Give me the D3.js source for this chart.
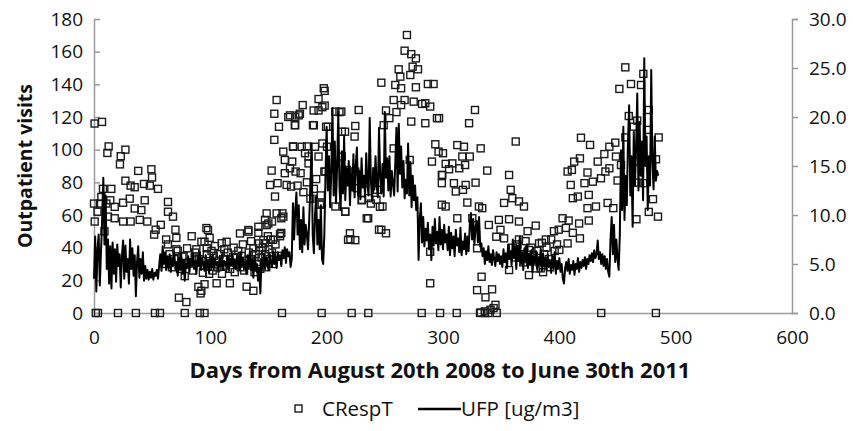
<!DOCTYPE html>
<html>
<head>
<meta charset="utf-8">
<script src="https://cdn.jsdelivr.net/npm/d3@7"></script>
<style>
  body { margin: 0; background: #fff; }
  svg { display: block; }
  text { font-family: "Open Sans", sans-serif; fill: #111; }
</style>
</head>
<body>
<svg id="chart"></svg>
<script>
// tick values
const xTicks = [0, 100, 200, 300, 400, 500, 600];
const leftTicks = [0, 20, 40, 60, 80, 100, 120, 140, 160, 180];
const rightTicks = [0, 5, 10, 15, 20, 25, 30];

// CRespT: [day, outpatient visits]
const crespPoints = [
  [0.5,116],[6.9,117],[12.6,102],[11.5,98],[27,100],[23,96],[22.3,91],[38,87],[49.3,88],[49.9,83],
  [27,81],[31.5,78],[35,77],[43,79],[48,78],[55,76],[7.7,76],[14.9,76],[6.3,71],[0,67],
  [10.6,67],[17.8,65],[25,67.5],[30.7,70],[35,64],[40.7,63],[43.6,69],[0.6,56],[12,59],[17.8,58],
  [25,56],[31.5,56],[39.3,57],[45.8,56],[57.4,54],[53,51],[51.7,48],[3,62],[9,50],[5,67],[14,69],
  [63.6,68],[63.6,62],[67.9,59],[70,51],[62,45],[63.6,42],[70.8,46],[70.8,39],[84,47],[96.6,52],
  [92.3,43.6],[88,39],[86.5,34],[81,30.5],[78,22.6],[73,9.4],[79.4,6.7],[92.3,13.6],[95,17.6],[93.6,24.6],
  [98,28.7],[89.7,16],[91.6,12],[76,34.5],[80,39.6],[98,50.8],[99.4,46],[95,43.6],[96.9,39.6],
  [62,30],[65,36],[67,28],[69,33],[72,38],[74,27],[77,35],[82,31],[85,26],[87,37],[90,33],[94,29],[97,36],[99,24],
  [100,30],[101,38],[102,26],[103,35],[104,41],[106,28],[108,36],[110,24],[111,33],[112,39],[113,29],
  [115,37],[117,27],[118,31],[120,40],[121,25],[122,34],[123,30],[124,38],[126,28],[127,35],[128,42],
  [129,26],[130,32],[133,37],[134,29],[135,44],[136,33],[138,25],[139,36],[140,30],[142,38],[143,27],
  [144,34],[145,40],[146,31],[147,36],[148,28],[150,39],[151,33],[152,45],[153,37],[154,30],[156,42],
  [158,35],[160,47],
  [109.8,42.7],[114,43.6],[125.5,48.7],[132.7,50.8],[141.3,52.8],[148.4,53.8],[153,56],[157,61],[161,58],
  [154,44.8],[137,39.6],[107,32],[119.7,34.3],[105.4,18.2],[116.8,18.2],[131.2,16.1],[137,13.6],
  [132.7,49.8],[148.4,61],[147,57],[149.9,54.8],[141.3,49.1],[145.6,44.6],[149.4,47],[159.9,48.3],
  [141.9,42.6],[147,42.6],[162.8,59],[155.6,71.3],[152.7,87.2],[151.3,78.4],[157.8,79.5],[165.6,78.4],
  [169.4,77.4],[157,130.4],[155,122],[159,114],[155,106],[167,120],[173,120],[162.7,98.8],[171.3,101.8],
  [164,93.7],[170.4,92.7],[168.5,88.6],[164,85.6],[172.6,115],[161,49],[162,61],
  [178.5,101.8],[181.4,97.8],[190,101.8],[193,95.8],[196.3,103.8],[173.3,86.6],[177.6,85.6],[184.4,95.8],
  [184.4,91.6],[198,86.6],[177,122],[179.4,127.3],[188.2,115],[188.8,124],[193,124],[196.3,126],
  [193,131],[197.5,137.6],[199.5,114],[194.3,66.3],[175,78],[180,74],[183,80],[186,70],[189,76],
  [191,82],[195,72],[168.5,121],[176,121],[173,115],[189,115],[171,102],[183,102],
  [269,170.2],[267,160.6],[272.7,158.5],[276.7,155.9],[273.9,150.8],[278.5,149.2],[261.9,149.2],
  [271.9,145.7],[263.3,144.7],[247,141],[259,139.6],[264,137.6],[276.7,138.2],[287,140.2],[291.9,140.2],
  [207.5,123.3],[212.6,123.3],[227.5,124.3],[251,124],[257.6,130.4],[267,130.4],[264,127.3],[274.8,129.4],
  [282,128],[284.8,128.4],[289,126.4],[253.9,119.3],[272.7,117.2],[284.8,116.2],[294.8,119.3],[249,115],
  [224.6,114.5],[198.3,136],[198.3,127],[213,111],[224,108],[200.3,101.8],[257.6,100.8],[293.4,103.3],
  [296.2,98.8],[290.5,92.7],[271.4,93.7],[199,86.6],[299,84.5],[299,79.5],[299,66.3],[213,95.8],
  [217.4,87.6],[224.6,86.6],[233,79.5],[226,76.4],[243.3,75.4],[236.3,70.3],[242.8,69.3],[248,65.2],
  [230.4,69.3],[207.5,65.2],[216,62.1],[235.7,58],[247,50.9],[251,48.8],[220.4,45.1],[224.6,44.6],
  [289,37.5],[289,18.2],[211,123],[201,114],[215.8,111],[195.7,67],[216,62],[234.4,58],[220,48.8],
  [218.4,44.8],[245,51],[245.8,65],[230,69],[238,67],[260,123],
  [327.5,124.3],[322.4,116.2],[362.5,105],[296.6,119.3],[312.3,102.8],[318,101.8],[332.4,100.8],
  [323,95.8],[316.6,95.8],[300,97.8],[302.3,91.3],[308,91.6],[319,90.6],[314,88.6],[305.2,88],
  [338,87.2],[356.8,84.5],[299.4,84.5],[309.4,79.5],[319.5,78.4],[328,79.8],[311,74.4],[317.2,75.4],
  [358.2,75.4],[352.5,67.4],[359.6,70.3],[365.3,68.3],[369.6,65.2],[302.3,65.2],[320.9,67.6],
  [330.9,65.2],[333.7,64.2],[312.3,58],[339.4,53.9],[348,57],[356.8,57.4],[365.3,56],[349.4,50.9],
  [345.8,46.7],[352.5,45.7],[325.2,58],[372.7,50.1],[379.7,53.5],[395.4,50.1],[388.4,45],[382.6,42.6],
  [365.3,45],[373.9,38.6],[329.3,39.6],[356.8,26.3],[373.9,23.2],[379.7,27.3],[384,27.3],[333.2,22.2],
  [329.3,14],[342.2,14.5],[336.5,9.6],[345.1,5],[340.8,2],[336,1],[332.4,0.3],[343.5,3],
  [360,40],[362,34],[364,42],[367,36],[369,31],[371,44],[374,33],[376,40],[378,35],[381,38],
  [383,31],[385,43],[387,36],[389,40],[391,33],[393,45],[396,38],[398,42],[392,28],[386,25],
  [456.7,150.4],[451.6,137.2],[461.6,140.2],[472.2,146.4],[470.2,139.6],[459.7,120.6],[466.9,117.8],
  [476.9,124.3],[475.5,112.1],[464,114.1],[456.7,107.5],[485.4,107.5],[418.6,107.3],[426.4,102.9],
  [448.1,104.3],[443,101.8],[438.7,97.3],[433,92.7],[417.7,94.7],[412.8,92.7],[410.8,87.6],[407.1,86.6],
  [424.2,86],[439.6,86.6],[443,88.6],[448.7,95.8],[453,90.6],[466,92.7],[483.1,94.1],[435.8,82.5],
  [428.8,80.4],[421.6,79.5],[450.1,81.1],[467.3,79.8],[472.2,79.5],[409.8,78.4],[425.3,72.3],
  [411.6,70.3],[415.9,71.3],[431.5,65.2],[441.5,67.4],[446.4,64.2],[424.2,64.2],[480.5,69.7],
  [466.3,57.4],[476.9,61.9],[484.8,59],[402.8,58],[408,56.6],[417,54.8],[425.3,56.6],[399.5,51],
  [405.7,52.1],[411.6,49.1],[417.7,45.7],[407.1,42.6],[400,38.6],
  // zero days
  [1.5,0],[3.4,0],[20.6,0],[36,0],[52.4,0],[56.7,0],[78,0],[91,0],[95,0],[161.6,0],[195.7,0],
  [221.5,0],[235.8,0],[281.7,0],[297.5,0],[311.8,0],[331.8,0],[336.1,0],[339,0],[346.2,0],
  [436,0],[483,0]
];

// UFP [ug/m3], one value per day starting at day 0
const ufpValues = [
  3.5,7.8,2.2,6.5,8.0,2.8,6.2,9.5,13.8,7.0,
  12.0,4.5,7.5,3.0,6.8,2.5,7.2,4.0,6.5,3.2,
  7.0,4.8,6.0,2.6,5.8,7.4,3.5,6.9,4.2,5.5,
  3.0,7.5,4.5,6.6,3.8,5.9,1.7,5.2,6.8,3.6,
  5.5,4.0,6.2,3.3,4.8,3.5,4.4,3.4,4.2,3.6,
  4.5,3.4,4.1,3.8,4.4,3.5,4.8,6.0,4.3,6.8,
  5.0,6.2,4.4,5.8,4.6,6.0,4.2,5.5,4.8,6.1,
  4.5,5.2,3.8,5.6,4.4,6.0,4.0,5.4,3.3,5.0,
  4.6,5.8,4.2,5.5,4.9,6.1,4.5,5.3,4.0,5.7,
  4.8,6.2,4.4,5.6,5.0,4.3,5.9,4.6,5.4,4.1,
  5.8,4.7,6.0,4.5,5.5,4.9,5.2,4.2,5.7,4.8,
  6.0,4.4,5.3,5.0,4.6,5.9,4.3,5.5,4.9,6.1,
  4.7,5.4,4.5,5.8,5.1,4.4,6.2,4.8,5.6,4.5,
  5.3,4.0,5.9,4.6,6.3,4.4,5.5,3.6,5.8,4.3,
  5.0,3.3,4.6,2.0,5.4,4.7,6.0,4.5,5.6,5.0,
  4.4,6.0,5.2,4.7,6.3,5.0,5.8,4.6,6.2,5.4,
  5.9,4.8,6.4,5.6,6.7,5.1,6.5,5.8,6.2,4.7,
  5.5,11.2,7.5,10.5,12.3,8.0,11.0,6.5,9.5,6.2,
  10.8,7.0,9.0,8.0,6.5,9.5,13.0,17.3,8.0,6.1,
  10.0,12.0,7.0,9.5,6.5,11.0,5.5,5.0,8.0,14.0,
  19.0,12.5,16.0,10.8,14.5,20.9,12.0,17.5,11.2,15.0,
  20.5,13.0,10.5,16.5,12.2,18.0,11.5,14.8,13.0,15.5,
  11.0,14.2,12.5,16.2,11.8,15.0,16.9,12.0,14.5,11.6,
  15.8,12.8,14.0,11.9,16.3,13.2,12.0,19.9,13.5,11.5,
  14.8,12.6,16.0,13.0,11.8,18.9,14.0,12.2,15.2,11.9,
  20.5,13.8,15.8,12.5,16.0,11.9,14.5,13.2,12.0,15.4,
  18.9,12.4,19.3,14.2,17.0,12.8,15.5,11.7,13.6,12.2,
  17.3,12.0,15.4,10.8,14.0,11.5,13.0,10.5,11.8,5.4,
  9.5,11.2,7.2,9.8,6.8,8.6,7.4,9.2,6.5,8.0,
  5.4,8.8,6.9,9.6,7.1,8.3,6.4,9.8,7.0,8.5,
  6.5,9.0,7.2,8.0,6.4,8.8,5.9,8.2,6.6,7.8,
  5.8,8.5,6.9,7.6,6.2,8.7,5.9,7.3,6.5,8.1,
  6.0,7.8,6.3,8.9,10.2,7.5,9.6,7.0,8.8,9.4,
  7.2,9.8,6.8,7.1,5.8,6.6,5.0,6.3,5.4,6.8,
  5.2,6.0,4.9,6.4,5.5,4.8,6.2,5.3,6.0,5.0,
  5.8,4.7,6.5,5.2,6.1,4.6,7.0,5.5,6.3,4.9,
  7.5,5.6,6.8,4.5,6.9,5.3,7.8,5.0,6.2,4.4,
  6.6,5.2,7.0,4.6,6.0,4.9,6.4,4.2,5.8,5.1,
  6.3,4.5,5.7,5.0,6.5,4.3,6.1,4.8,5.5,4.4,
  6.0,4.7,5.4,4.1,5.8,4.6,6.2,4.0,5.3,4.5,
  5.6,4.2,5.0,3.5,3.0,4.6,5.2,4.3,5.5,4.0,
  4.9,4.4,5.3,3.9,5.0,4.5,5.6,4.2,5.2,4.6,
  5.4,4.8,5.7,4.5,5.5,5.0,5.9,5.3,6.1,5.2,
  6.4,5.6,6.0,7.4,5.5,6.2,5.0,6.0,4.8,5.8,
  4.5,5.5,4.2,3.7,7.5,9.8,6.0,9.0,5.2,7.5,
  5.5,4.4,8.0,16.6,10.5,19.0,9.5,14.0,11.0,17.5,
  21.2,12.0,16.0,8.8,18.5,13.0,17.0,22.4,12.5,19.5,
  14.0,17.5,11.5,26.0,15.0,18.0,10.5,16.0,13.0,24.8,
  15.5,12.6,18.0,13.5,14.5,14.0
];

const width = 853, height = 431;
const margin = { top: 19, right: 61, bottom: 118, left: 94 };
const plotW = width - margin.left - margin.right;
const plotH = height - margin.top - margin.bottom;

const svg = d3.select('#chart').attr('width', width).attr('height', height);
const g = svg.append('g').attr('transform', `translate(${margin.left},${margin.top})`);

const x = d3.scaleLinear().domain([0, 600]).range([0, plotW]);
const yLeft = d3.scaleLinear().domain([0, 180]).range([plotH, 0]);
const yRight = d3.scaleLinear().domain([0, 30]).range([plotH, 0]);

const axisColor = '#9a9a9a';

// left axis (ticks point into the plot)
const leftAxis = g.append('g')
  .call(d3.axisLeft(yLeft).tickValues(leftTicks).tickSize(0).tickPadding(11));
leftAxis.select('.domain').attr('stroke', axisColor).attr('stroke-width', 1.5);
leftAxis.selectAll('.tick line').remove();
leftAxis.selectAll('.tick').append('line')
  .attr('x1', 0).attr('x2', 6).attr('stroke', axisColor).attr('stroke-width', 1.5);

// right axis
const rightAxis = g.append('g')
  .attr('transform', `translate(${plotW},0)`)
  .call(d3.axisRight(yRight).tickValues(rightTicks).tickSize(6).tickPadding(11)
    .tickFormat(d3.format('.1f')));
rightAxis.select('.domain').attr('stroke', axisColor).attr('stroke-width', 1.5);
rightAxis.selectAll('.tick line').attr('stroke', axisColor).attr('stroke-width', 1.5);

// bottom axis
const bottomAxis = g.append('g')
  .attr('transform', `translate(0,${plotH})`)
  .call(d3.axisBottom(x).tickValues(xTicks).tickSize(0).tickPadding(18));
bottomAxis.select('.domain').attr('stroke', axisColor).attr('stroke-width', 1.5);

svg.selectAll('.tick text')
  .style('font-family', '"Open Sans", sans-serif')
  .style('font-size', '19px')
  .attr('fill', '#111');

// CRespT squares
const sq = 7;
g.selectAll('.cresp')
  .data(crespPoints)
  .enter()
  .append('rect')
  .attr('class', 'cresp')
  .attr('x', (d) => x(d[0]) - sq / 2)
  .attr('y', (d) => yLeft(d[1]) - sq / 2)
  .attr('width', sq)
  .attr('height', sq)
  .attr('fill', 'none')
  .attr('stroke', '#1a1a1a')
  .attr('stroke-width', 1.4);

// UFP line
const line = d3.line()
  .x((d, i) => x(i))
  .y((d) => yRight(d));

g.append('path')
  .datum(ufpValues)
  .attr('fill', 'none')
  .attr('stroke', '#000')
  .attr('stroke-width', 2)
  .attr('stroke-linejoin', 'round')
  .attr('d', line);

// axis titles
svg.append('text')
  .attr('transform', `translate(32,${margin.top + plotH / 2}) rotate(-90)`)
  .attr('text-anchor', 'middle')
  .style('font-size', '19.5px')
  .style('font-weight', 'bold')
  .text('Outpatient visits');

svg.append('text')
  .attr('x', 440)
  .attr('y', 378)
  .attr('text-anchor', 'middle')
  .style('font-size', '22px')
  .style('font-weight', 'bold')
  .text('Days from August 20th 2008 to June 30th 2011');

// legend
const legend = svg.append('g').attr('transform', 'translate(0,409)');
legend.append('rect')
  .attr('x', 295).attr('y', -4).attr('width', sq).attr('height', sq)
  .attr('fill', 'none').attr('stroke', '#1a1a1a').attr('stroke-width', 1.4);
legend.append('text')
  .attr('x', 322).attr('y', 7)
  .style('font-size', '20.5px')
  .text('CRespT');
legend.append('line')
  .attr('x1', 418).attr('x2', 461).attr('y1', 0).attr('y2', 0)
  .attr('stroke', '#000').attr('stroke-width', 2.5);
legend.append('text')
  .attr('x', 461).attr('y', 7)
  .style('font-size', '20.5px')
  .text('UFP [ug/m3]');
</script>
</body>
</html>
